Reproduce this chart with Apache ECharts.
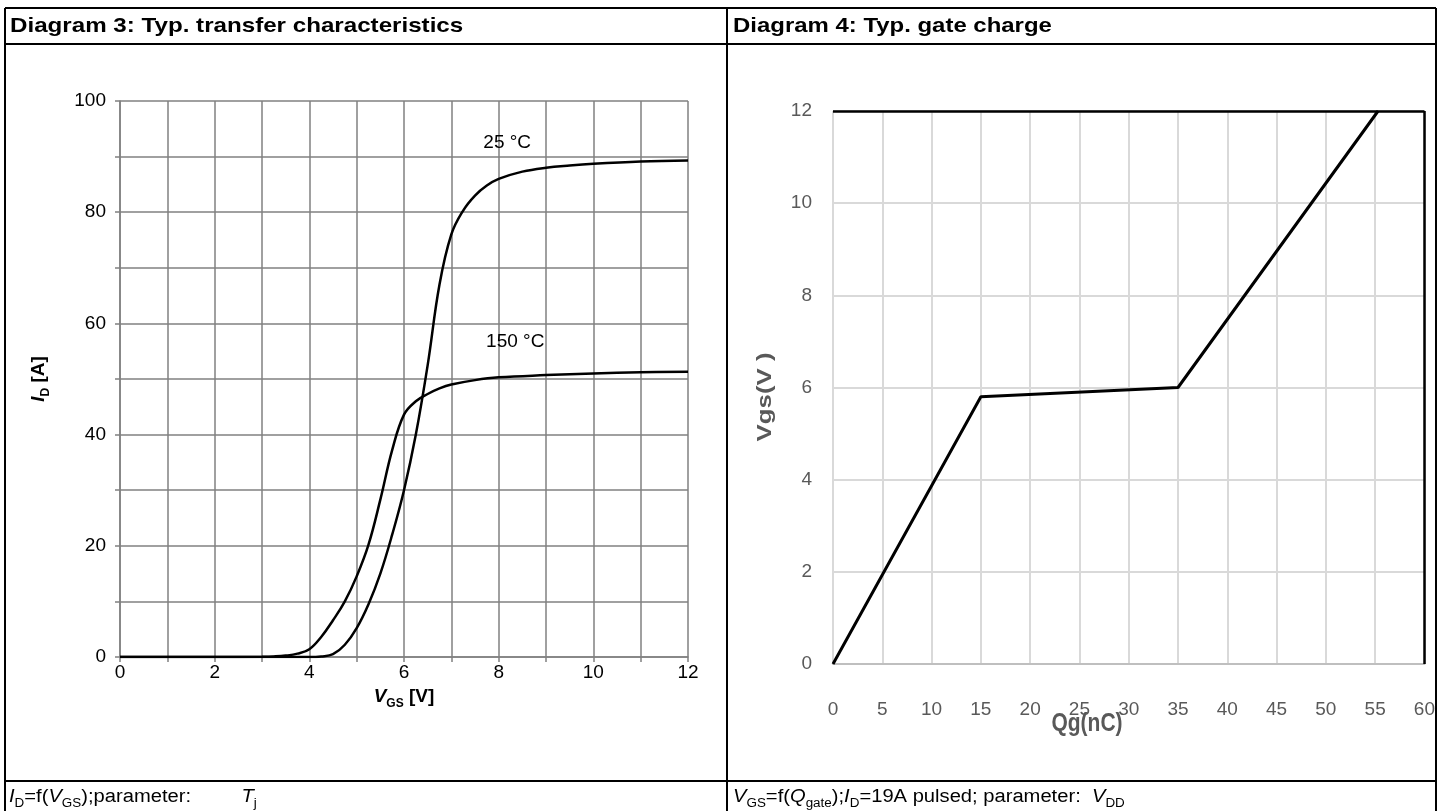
<!DOCTYPE html>
<html>
<head>
<meta charset="utf-8">
<script src="https://cdn.jsdelivr.net/npm/echarts@6/dist/echarts.min.js"></script>
<style>
html,body{margin:0;padding:0;background:#fff;}
#c{width:1438px;height:811px;}
</style>
</head>
<body>
<div id="c"></div>
<script>
// ---- Diagram 3 data ----
const vgs25 = [0,1,2,3,3.5,3.75,4,4.25,4.5,4.75,5,5.25,5.5,5.75,6,6.25,6.5,6.75,7,7.25,7.5,7.75,8,8.5,9,9.5,10,11,12];
const id25  = [0,0,0,0,0,0,0,0.1,0.5,2.2,5.2,9.5,15,22,30,40,52.5,67,76,80.3,83,84.8,86,87.3,88,88.4,88.7,89.1,89.3];
const vgs150 = [0,1,2,3,3.25,3.5,3.75,4,4.25,4.5,4.75,5,5.25,5.5,5.75,6,6.25,6.5,6.75,7,7.5,8,9,10,11,12];
const id150  = [0,0,0,0.05,0.1,0.25,0.6,1.4,3.6,6.6,10,14.5,20.2,28.3,37.2,43.6,46,47.3,48.3,49,49.8,50.3,50.7,51,51.2,51.3];
const curveLabels = ['25 °C','150 °C'];
const labelPos = [[8.18,92.4],[8.35,56.7]];
// ---- Diagram 4 data ----
const qg  = [0,15,35,55.3];
const vgs = [0,5.8,6.0,12];

const pair = (xs, ys) => xs.map((x,i)=>[x, ys[i]]);

const chart = echarts.init(document.getElementById('c'), null, {renderer:'canvas'});
const F = 'Liberation Sans, Arial, sans-serif';

const sub = {fontSize:12, fontFamily:F, fill:'#000', verticalAlign:'bottom', padding:[0,0,-4,0]};

function line(x1,y1,x2,y2,w){
  return {type:'line', silent:true, shape:{x1,y1,x2,y2}, style:{stroke:'#000', lineWidth:w||2}};
}

const option = {
  animation:false,
  textStyle:{fontFamily:F},
  grid:[
    {left:120, top:101, width:568, height:556, show:false},
    {left:833, top:111, width:592, height:553, show:false}
  ],
  xAxis:[
    {gridIndex:0, type:'value', min:0, max:12, interval:1,
     axisLine:{show:true, lineStyle:{color:'#808080', width:1.5}},
     axisTick:{show:true, length:5, lineStyle:{color:'#808080', width:1.5}},
     axisLabel:{fontSize:19, color:'#000', fontFamily:F, margin:6,
       formatter:v=> (v%2===0? String(v):'')},
     splitLine:{show:true, lineStyle:{color:'#808080', width:1.5}},
     name:'{i|V}{s|GS}{b| [V]}', nameLocation:'middle', nameGap:25,
     nameTextStyle:{rich:{
       i:{fontSize:19, fontWeight:'bold', fontStyle:'italic', fontFamily:F, color:'#000'},
       s:{fontSize:12, fontWeight:'bold', fontFamily:F, color:'#000', verticalAlign:'bottom', padding:[0,0,-4,0]},
       b:{fontSize:19, fontWeight:'bold', fontFamily:F, color:'#000'}}}
    },
    {gridIndex:1, type:'value', min:0, max:60, interval:5,
     axisLine:{show:true, lineStyle:{color:'#bfbfbf', width:2}},
     axisTick:{show:false},
     axisLabel:{fontSize:19, color:'#595959', fontFamily:F, margin:36},
     splitLine:{show:true, lineStyle:{color:'#d9d9d9', width:2}}
    }
  ],
  yAxis:[
    {gridIndex:0, type:'value', min:0, max:100, interval:10,
     axisLine:{show:true, lineStyle:{color:'#808080', width:1.5}},
     axisTick:{show:true, length:5, lineStyle:{color:'#808080', width:1.5}},
     axisLabel:{fontSize:19, color:'#000', fontFamily:F, margin:14,
       formatter:v=> (v%20===0? String(v):'')},
     splitLine:{show:true, lineStyle:{color:'#808080', width:1.5}},
     name:'{i|I}{s|D}{b| [A]}', nameLocation:'middle', nameGap:72, nameRotate:90,
     nameTextStyle:{rich:{
       i:{fontSize:19, fontWeight:'bold', fontStyle:'italic', fontFamily:F, color:'#000'},
       s:{fontSize:12, fontWeight:'bold', fontFamily:F, color:'#000', verticalAlign:'bottom', padding:[0,0,-4,0]},
       b:{fontSize:19, fontWeight:'bold', fontFamily:F, color:'#000'}}}
    },
    {gridIndex:1, type:'value', min:0, max:12, interval:2,
     axisLine:{show:false}, axisTick:{show:false},
     axisLabel:{fontSize:19, color:'#595959', fontFamily:F, margin:21},
     splitLine:{show:true, lineStyle:{color:'#d9d9d9', width:2}}
    }
  ],
  series:[
    {type:'line', xAxisIndex:0, yAxisIndex:0, data:pair(vgs25,id25), smooth:0.4,
     showSymbol:false, lineStyle:{color:'#000', width:2.5},
     markPoint:{symbol:'circle', symbolSize:1, itemStyle:{color:'rgba(0,0,0,0)'},
       label:{show:true, position:'inside', color:'#000', fontSize:19, fontFamily:F, formatter:p=>p.name},
       data:[{name:curveLabels[0], coord:labelPos[0]}]}
    },
    {type:'line', xAxisIndex:0, yAxisIndex:0, data:pair(vgs150,id150), smooth:0.4,
     showSymbol:false, lineStyle:{color:'#000', width:2.5},
     markPoint:{symbol:'circle', symbolSize:1, itemStyle:{color:'rgba(0,0,0,0)'},
       label:{show:true, position:'inside', color:'#000', fontSize:19, fontFamily:F, formatter:p=>p.name},
       data:[{name:curveLabels[1], coord:labelPos[1]}]}
    },
    {type:'line', xAxisIndex:1, yAxisIndex:1, data:pair(qg,vgs), smooth:false,
     showSymbol:false, lineStyle:{color:'#000', width:3},
     markLine:{silent:true, symbol:'none', label:{show:false},
       lineStyle:{color:'#000', width:2.5, type:'solid'},
       data:[{yAxis:12},{xAxis:60}]}
    }
  ],
  graphic:[
    // table frame
    line(5,8,1436,8,2),
    line(5,44,1436,44,2),
    line(5,781,1436,781,2),
    line(5,8,5,811,2),
    line(727,8,727,811,2),
    line(1436,8,1436,811,2),
    {type:'text', x:10, y:26, scaleX:1.15, style:{text:'Diagram 3: Typ. transfer characteristics', font:'bold 21px '+F, fill:'#000', verticalAlign:'middle'}},
    {type:'text', x:733, y:26, scaleX:1.14, style:{text:'Diagram 4: Typ. gate charge', font:'bold 21px '+F, fill:'#000', verticalAlign:'middle'}},
    {type:'text', x:1087, y:724, scaleY:1.25, style:{text:'Qg(nC)', font:'bold 21px '+F, fill:'#595959', align:'center', verticalAlign:'middle'}},
    {type:'text', x:765, y:397, rotation:Math.PI/2, scaleX:1.23, style:{text:'Vgs(V )', font:'bold 21px '+F, fill:'#595959', align:'center', verticalAlign:'middle'}},
    {type:'text', x:9, y:797, scaleX:1.12, style:{
      text:'{i|I}{s|D}{n|=f(}{i|V}{s|GS}{n|);parameter:         }{i|T}{s|j}', verticalAlign:'middle',
      rich:{i:{fontSize:18,fontStyle:'italic',fontFamily:F,fill:'#000'}, n:{fontSize:18,fontFamily:F,fill:'#000'}, s:sub}}},
    {type:'text', x:733, y:797, scaleX:1.12, style:{
      text:'{i|V}{s|GS}{n|=f(}{i|Q}{s|gate}{n|);}{i|I}{s|D}{n|=19A pulsed; parameter:  }{i|V}{s|DD}', verticalAlign:'middle',
      rich:{i:{fontSize:18,fontStyle:'italic',fontFamily:F,fill:'#000'}, n:{fontSize:18,fontFamily:F,fill:'#000'}, s:sub}}}
  ]
};
chart.setOption(option);
</script>
</body>
</html>
